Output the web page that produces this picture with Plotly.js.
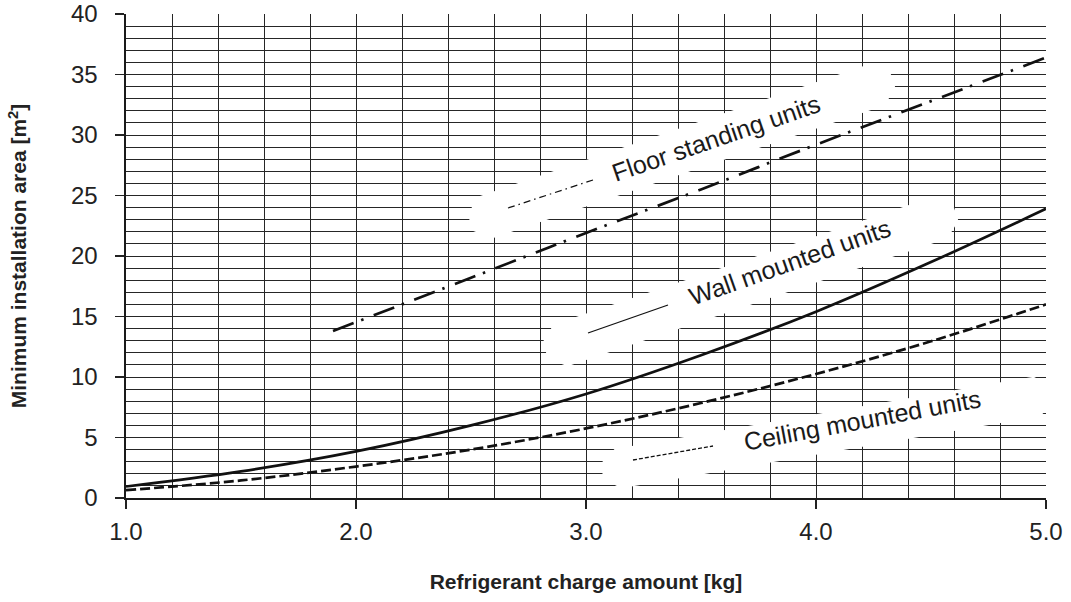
<!DOCTYPE html>
<html>
<head>
<meta charset="utf-8">
<script src="https://cdn.plot.ly/plotly-3.0.1.min.js"></script>
<style>html,body{margin:0;padding:0;background:#fff;}#chart{width:1071px;height:602px;}</style>
</head>
<body>
<div id="chart"></div>
<script>
// ---- data ----
var chargeKg    = [1.0, 1.5, 2.0, 2.5, 3.0, 3.5, 4.0, 4.5, 5.0];
var wallArea    = [0.95, 2.2, 3.85, 6.0, 8.6, 11.8, 15.4, 19.5, 23.9];
var ceilingArea = [0.65, 1.45, 2.6, 4.0, 5.75, 7.85, 10.25, 12.95, 16.0];
var floorKg     = [1.9, 2.5, 3.0, 3.5, 4.0, 4.5, 5.0];
var floorArea   = [13.8, 18.2, 21.9, 25.5, 29.2, 32.8, 36.4];

var xTickVals   = [1.0, 2.0, 3.0, 4.0, 5.0];
var yTickVals   = [0, 5, 10, 15, 20, 25, 30, 35, 40];
var labelTexts  = ['Floor standing units', 'Wall mounted units', 'Ceiling mounted units'];

// ---- layout geometry ----
var W = 1071, H = 602;
var M = {l: 126, r: 25, t: 14, b: 104};
var pw = W - M.l - M.r, ph = H - M.t - M.b;
function dx(px) { return 1 + (px - M.l) / pw * 4; }
function dy(py) { return (H - M.b - py) / ph * 40; }

function band(x1, y1, x2, y2, h) {
  var a = Math.atan2(y2 - y1, x2 - x1);
  var nx = -Math.sin(a) * h, ny = Math.cos(a) * h;
  var tx = Math.cos(a) * 8, ty = Math.sin(a) * 8;
  var pts = [
    [x1 + nx + tx, y1 + ny + ty], [x1 - tx + nx * 0.4, y1 - ty + ny * 0.4],
    [x1 - tx - nx * 0.4, y1 - ty - ny * 0.4], [x1 - nx + tx, y1 - ny + ty],
    [x2 - nx - tx, y2 - ny - ty], [x2 + tx - nx * 0.4, y2 + ty - ny * 0.4],
    [x2 + tx + nx * 0.4, y2 + ty + ny * 0.4], [x2 + nx - tx, y2 + ny - ty]
  ];
  var p = 'M' + pts.map(function (q) { return dx(q[0]).toFixed(4) + ',' + dy(q[1]).toFixed(4); }).join(' L') + ' Z';
  return {type: 'path', path: p, xref: 'x', yref: 'y', fillcolor: '#ffffff', line: {width: 0}, layer: 'between'};
}
function sample(x1, y1, x2, y2, dash, w) {
  return {type: 'line', xref: 'x', yref: 'y', x0: dx(x1), y0: dy(y1), x1: dx(x2), y1: dy(y2),
          line: {color: '#111', width: w, dash: dash}, layer: 'between'};
}
function label(txt, px, py, ang) {
  return {text: txt, x: dx(px), y: dy(py), xref: 'x', yref: 'y', showarrow: false, textangle: ang,
          xanchor: 'center', yanchor: 'middle',
          font: {family: 'Liberation Sans, Arial, sans-serif', size: 25, color: '#1a1a1a'}};
}

var traces = [
  {x: chargeKg, y: wallArea, mode: 'lines', line: {color: '#111', width: 2.7, shape: 'spline'}, name: 'Wall'},
  {x: chargeKg, y: ceilingArea, mode: 'lines', line: {color: '#111', width: 2.7, shape: 'spline', dash: '10px,4px'}, name: 'Ceiling'},
  {x: floorKg, y: floorArea, mode: 'lines', line: {color: '#111', width: 2.7, shape: 'spline', dash: '22px,8px,2.5px,11px'}, name: 'Floor'}
];

var tickFont = {family: 'Liberation Sans, Arial, sans-serif', size: 24, color: '#222'};
var titleFont = {family: 'Liberation Sans, Arial, sans-serif', size: 21, color: '#222'};

var layout = {
  width: W, height: H, margin: M,
  paper_bgcolor: '#fff', plot_bgcolor: '#fff', showlegend: false,
  xaxis: {
    range: [1, 5], tickvals: xTickVals, tickformat: '.1f', ticks: 'outside', ticklen: 9, tickwidth: 1.5, tickcolor: '#222',
    showgrid: true, gridcolor: '#262626', gridwidth: 1,
    minor: {dtick: 0.2, tick0: 1, showgrid: true, gridcolor: '#262626', gridwidth: 1, ticks: ''},
    showline: true, linecolor: '#1a1a1a', linewidth: 1.6, zeroline: false,
    tickfont: tickFont, ticklabelstandoff: 3,
    title: {text: '<b>Refrigerant charge amount [kg]</b>', font: titleFont, standoff: 30}
  },
  yaxis: {
    range: [0, 40], tickvals: yTickVals, ticks: 'outside', ticklen: 9, tickwidth: 1.5, tickcolor: '#222',
    showgrid: true, gridcolor: '#262626', gridwidth: 1,
    minor: {dtick: 1, tick0: 0, showgrid: true, gridcolor: '#262626', gridwidth: 1, ticks: ''},
    showline: true, linecolor: '#1a1a1a', linewidth: 1.6, zeroline: false,
    tickfont: tickFont, ticklabelstandoff: 13,
    title: {text: '<b>Minimum installation area [m<sup>2</sup>]</b>', font: titleFont, standoff: 38}
  },
  shapes: [
    band(478, 220, 885, 82, 22),
    band(553, 348, 948, 215, 22),
    band(610, 470, 1045, 395, 20),
    sample(508, 208, 593, 180, '7px,4px,1.5px,4px', 1.2),
    sample(588, 333, 668, 305, 'solid', 1.3),
    sample(633, 460, 713, 446, '4px,2px', 1.3)
  ],
  annotations: [
    label(labelTexts[0], 716, 138, -19),
    label(labelTexts[1], 790, 262, -19.5),
    label(labelTexts[2], 862, 420, -10.5)
  ]
};

Plotly.newPlot('chart', traces, layout, {staticPlot: true, displayModeBar: false});
</script>
</body>
</html>
